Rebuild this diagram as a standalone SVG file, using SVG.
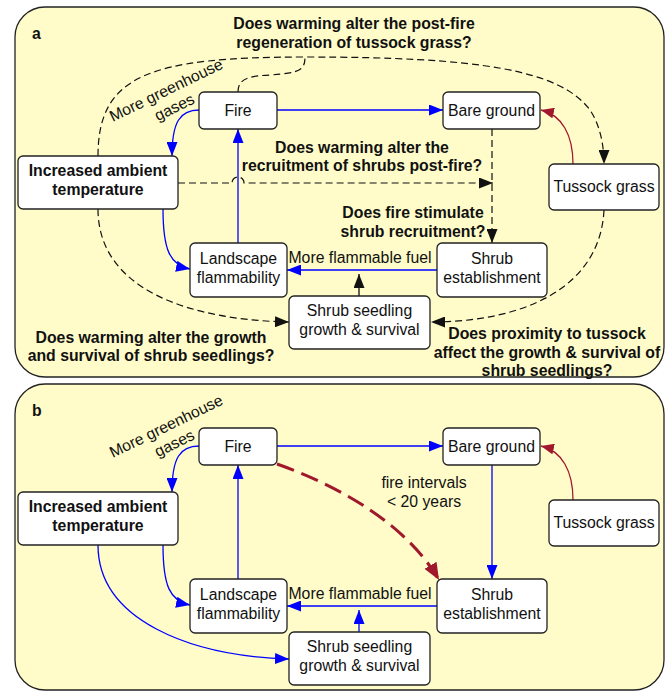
<svg xmlns="http://www.w3.org/2000/svg" width="672" height="692" viewBox="0 0 672 692">
<style>
.panel{fill:#fffcc9;stroke:#222;stroke-width:1.3}
.box{fill:#fff;stroke:#222;stroke-width:1.3}
text{font-family:"Liberation Sans",Arial,sans-serif;font-size:15.8px;fill:#111;text-anchor:middle}
.b{font-weight:bold}
.l{text-anchor:start}
.blue{fill:none;stroke:#0000ff;stroke-width:1.3}
.dash{fill:none;stroke:#111;stroke-width:1.2;stroke-dasharray:7,4}
.red{fill:none;stroke:#a0182c;stroke-width:1.3}
.reddash{fill:none;stroke:#a0182c;stroke-width:3;stroke-dasharray:18,8}
</style>
<defs>
<marker id="ab" markerUnits="userSpaceOnUse" markerWidth="15" markerHeight="11" refX="14" refY="5.5" orient="auto"><path d="M0,0 L14,5.5 L0,11 z" fill="#0000ff"/></marker>
<marker id="ak" markerUnits="userSpaceOnUse" markerWidth="15" markerHeight="11" refX="14" refY="5.5" orient="auto"><path d="M0,0 L14,5.5 L0,11 z" fill="#111"/></marker>
<marker id="ar" markerUnits="userSpaceOnUse" markerWidth="14" markerHeight="11" refX="13" refY="5.5" orient="auto"><path d="M0,0 L13,5.5 L0,11 z" fill="#a0182c"/></marker>
<marker id="ar2" markerUnits="userSpaceOnUse" markerWidth="18" markerHeight="14" refX="17" refY="7" orient="auto"><path d="M0,0 L17,7 L0,14 z" fill="#a0182c"/></marker>
</defs>

<rect class="panel" x="15" y="7" width="649" height="370" rx="30"/>
<rect class="panel" x="15" y="384" width="649" height="306" rx="30"/>

<g id="connectors">
<!-- panel a -->
<path class="blue" d="M277,110 L443,110" marker-end="url(#ab)"/>
<path class="blue" d="M199,110 C180,110 172,122 172,156" marker-end="url(#ab)"/>
<path class="blue" d="M238,243 L238,129" marker-end="url(#ab)"/>
<path class="blue" d="M163,209 C163,250 170,265 190,269" marker-end="url(#ab)"/>
<path class="blue" d="M437,270 L287,270" marker-end="url(#ab)"/>
<path fill="none" stroke="#111" stroke-width="1.3" d="M359,296 L359,274" marker-end="url(#ak)"/>
<path class="red" d="M573,164 C573,135 562,115 541,110" marker-end="url(#ar)"/>
<path class="dash" d="M98,156 C98,75 150,57 305,57 C480,57 560,70 590,110 C600,125 604,145 604,164" marker-end="url(#ak)"/>
<path class="dash" d="M238,92 C238,78 250,76 270,75 C300,73 305,70 305,57"/>
<path class="dash" d="M178,183 L232,183 A6,6 0 0 1 244,183 L493,183" marker-end="url(#ak)"/>
<path class="dash" d="M492,129 L492,243" marker-end="url(#ak)"/>
<path class="dash" d="M98,209 C98,290 190,320 289,322" marker-end="url(#ak)"/>
<path class="dash" d="M604,210 C600,290 520,322 431,322" marker-end="url(#ak)"/>
<!-- panel b -->
<path class="blue" d="M277,446 L443,446" marker-end="url(#ab)"/>
<path class="blue" d="M199,446 C180,446 172,458 172,492" marker-end="url(#ab)"/>
<path class="blue" d="M238,579 L238,465" marker-end="url(#ab)"/>
<path class="blue" d="M163,545 C163,586 170,601 190,605" marker-end="url(#ab)"/>
<path class="blue" d="M98,545 C98,620 190,656 289,659" marker-end="url(#ab)"/>
<path class="blue" d="M437,606 L287,606" marker-end="url(#ab)"/>
<path class="blue" d="M359,632 L359,610" marker-end="url(#ab)"/>
<path class="blue" d="M492,465 L492,579" marker-end="url(#ab)"/>
<path class="red" d="M573,500 C573,471 562,451 541,446" marker-end="url(#ar)"/>
<path class="reddash" d="M277,464 C350,490 410,530 439,580" marker-end="url(#ar2)"/>
</g>

<!-- panel a nodes -->
<g id="a-fire"><rect class="box" x="199" y="92" width="78" height="37" rx="5"/><text x="238" y="115.5">Fire</text></g>
<g id="a-bare"><rect class="box" x="443" y="92" width="97" height="37" rx="5"/><text x="491.5" y="115.5">Bare ground</text></g>
<g id="a-temp"><rect class="box" x="18" y="156" width="160" height="53" rx="5"/><text class="b" x="98" y="176">Increased ambient</text><text class="b" x="98" y="194.5">temperature</text></g>
<g id="a-tussock"><rect class="box" x="549" y="164" width="110" height="46" rx="5"/><text x="604" y="192">Tussock grass</text></g>
<g id="a-landscape"><rect class="box" x="190" y="243" width="97" height="54" rx="5"/><text x="238.5" y="263.5">Landscape</text><text x="238.5" y="282.5">flammability</text></g>
<g id="a-shrub"><rect class="box" x="437" y="243" width="110" height="54" rx="5"/><text x="492" y="263.5">Shrub</text><text x="492" y="282.5">establishment</text></g>
<g id="a-seedling"><rect class="box" x="289" y="296" width="141" height="53" rx="5"/><text x="359.5" y="315.5">Shrub seedling</text><text x="359.5" y="334.5">growth &amp; survival</text></g>

<g id="a-labels">
<text class="b l" x="32" y="39">a</text>
<text class="b" x="354" y="28.5">Does warming alter the post-fire</text>
<text class="b" x="354" y="47.5">regeneration of tussock grass?</text>
<text class="b" x="362" y="152.5">Does warming alter the</text>
<text class="b" x="362" y="171">recruitment of shrubs post-fire?</text>
<text class="b" x="413" y="217.5">Does fire stimulate</text>
<text class="b" x="413" y="237">shrub recruitment?</text>
<text class="b" x="151" y="342.5">Does warming alter the growth</text>
<text class="b" x="151" y="361">and survival of shrub seedlings?</text>
<text class="b" x="547" y="338.5">Does proximity to tussock</text>
<text class="b" x="547" y="357.5">affect the growth &amp; survival of</text>
<text class="b" x="547" y="375.5">shrub seedlings?</text>
<text x="360" y="262.5">More flammable fuel</text>
<g transform="translate(166,90) rotate(-26)"><text y="5.5">More greenhouse</text><text y="24.5">gases</text></g>
</g>

<!-- panel b nodes -->
<g id="b-fire"><rect class="box" x="199" y="428" width="78" height="37" rx="5"/><text x="238" y="451.5">Fire</text></g>
<g id="b-bare"><rect class="box" x="443" y="428" width="97" height="37" rx="5"/><text x="491.5" y="451.5">Bare ground</text></g>
<g id="b-temp"><rect class="box" x="18" y="492" width="160" height="53" rx="5"/><text class="b" x="98" y="512">Increased ambient</text><text class="b" x="98" y="530.5">temperature</text></g>
<g id="b-tussock"><rect class="box" x="549" y="500" width="110" height="46" rx="5"/><text x="604" y="528">Tussock grass</text></g>
<g id="b-landscape"><rect class="box" x="190" y="579" width="97" height="54" rx="5"/><text x="238.5" y="599.5">Landscape</text><text x="238.5" y="618.5">flammability</text></g>
<g id="b-shrub"><rect class="box" x="437" y="579" width="110" height="54" rx="5"/><text x="492" y="599.5">Shrub</text><text x="492" y="618.5">establishment</text></g>
<g id="b-seedling"><rect class="box" x="289" y="632" width="141" height="53" rx="5"/><text x="359.5" y="651.5">Shrub seedling</text><text x="359.5" y="670.5">growth &amp; survival</text></g>

<g id="b-labels">
<text class="b l" x="32" y="416">b</text>
<text x="424" y="487.5">fire intervals</text>
<text x="424" y="506.5">&lt; 20 years</text>
<text x="360" y="598.5">More flammable fuel</text>
<g transform="translate(166,426) rotate(-26)"><text y="5.5">More greenhouse</text><text y="24.5">gases</text></g>
</g>
</svg>
